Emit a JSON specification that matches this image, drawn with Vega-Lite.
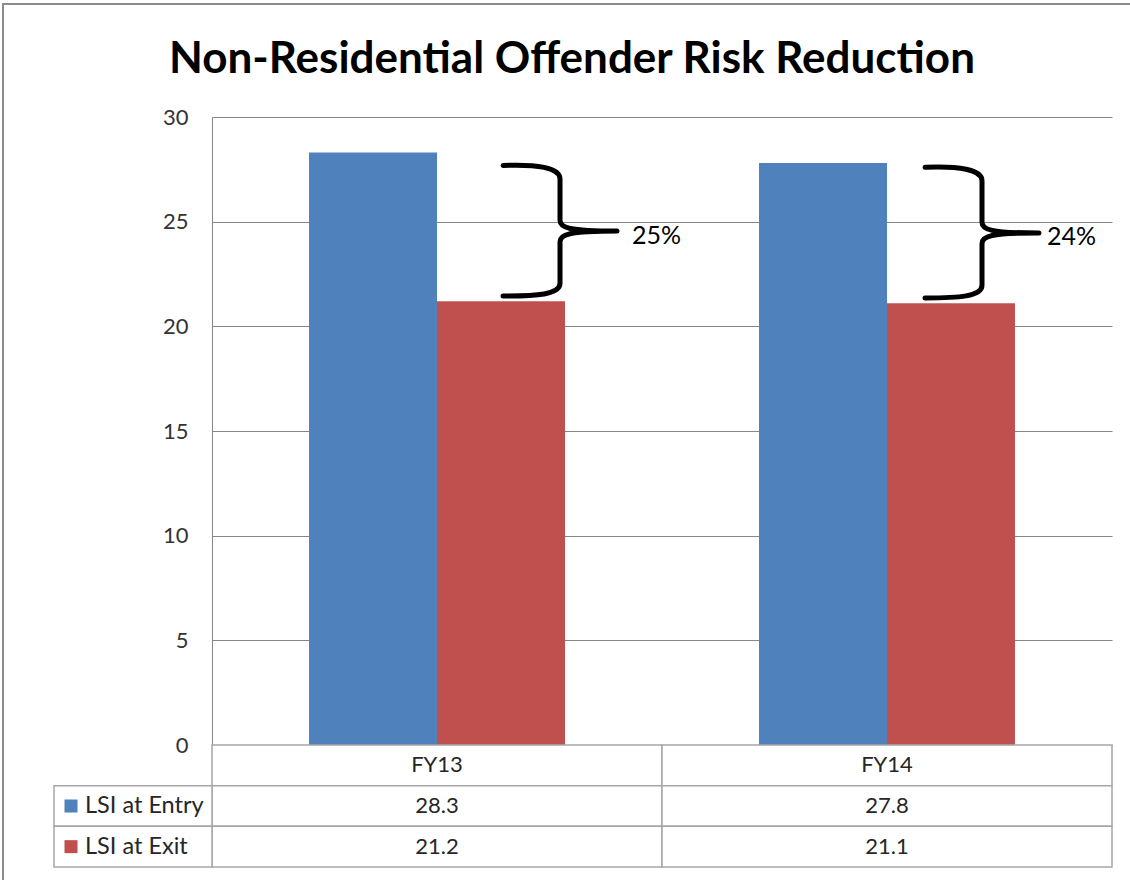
{
  "$schema": "https://vega.github.io/schema/vega-lite/v6.json",
  "width": 900,
  "height": 628,
  "autosize": {"type": "none"},
  "padding": {"left": 212, "top": 117, "right": 18, "bottom": 135},
  "background": "white",
  "config": {"view": {"stroke": null}, "font": "Lato"},
  "title": {
    "text": "Non-Residential Offender Risk Reduction",
    "font": "Lato",
    "fontSize": 44,
    "fontWeight": "bold",
    "color": "black",
    "anchor": "middle",
    "baseline": "alphabetic",
    "dx": -90,
    "offset": -114
  },
  "datasets": {
    "lsi": [
      {"fy": "FY13", "series": "LSI at Entry", "value": 28.3},
      {"fy": "FY13", "series": "LSI at Exit", "value": 21.2},
      {"fy": "FY14", "series": "LSI at Entry", "value": 27.8},
      {"fy": "FY14", "series": "LSI at Exit", "value": 21.1}
    ],
    "reduction": [
      {"fy": "FY13", "mid": 24.55, "label": "25%"},
      {"fy": "FY14", "mid": 24.46, "label": "24%"}
    ],
    "years": [{"fy": "FY13"}, {"fy": "FY14"}],
    "rows": [{"series": "LSI at Entry"}, {"series": "LSI at Exit"}],
    "frame": [{"part": "border"}]
  },
  "resolve": {"scale": {"x": "independent", "y": "independent"}},
  "layer": [
    {
      "data": {"name": "frame"},
      "mark": {"type": "rect", "fill": "transparent", "stroke": "#8C8C8C", "strokeWidth": 2},
      "encoding": {
        "x": {"datum": 0, "type": "quantitative", "scale": {"domain": [0, 1], "range": [-209, 930]}, "axis": null},
        "x2": {"datum": 1},
        "y": {"datum": 0, "type": "quantitative", "scale": {"domain": [0, 1], "range": [-113, 790]}, "axis": null},
        "y2": {"datum": 1}
      }
    },
    {
      "layer": [
        {
          "data": {"name": "lsi"},
          "mark": {"type": "bar"},
          "encoding": {
            "x": {"field": "fy", "type": "nominal", "scale": {"paddingInner": 0, "paddingOuter": 0}, "axis": null},
            "xOffset": {"field": "series", "scale": {"paddingInner": 0, "paddingOuter": 0.758}},
            "y": {
              "field": "value",
              "type": "quantitative",
              "scale": {"domain": [0, 30], "nice": false},
              "axis": {
                "title": null,
                "values": [0, 5, 10, 15, 20, 25, 30],
                "grid": true,
                "gridColor": "#868686",
                "gridWidth": 1,
                "domain": true,
                "domainColor": "#868686",
                "domainWidth": 1,
                "ticks": false,
                "tickSize": 0,
                "labelPadding": 24,
                "labelFont": "Lato",
                "labelFontSize": 22,
                "labelColor": "#333333"
              }
            },
            "color": {
              "field": "series",
              "type": "nominal",
              "scale": {"domain": ["LSI at Entry", "LSI at Exit"], "range": ["#4F81BD", "#C0504D"]},
              "legend": null
            }
          }
        },
        {
          "data": {"name": "reduction"},
          "transform": [{"filter": "datum.fy === 'FY13'"}],
          "mark": {
            "type": "point",
            "shape": "M 0.986 -0.98 C 1.486 -1.0 1.836 -0.95 1.836 -0.78 L 1.836 -0.16 C 1.836 -0.05 1.956 0 2.686 0 M 2.686 0 C 1.956 0 1.836 0.05 1.836 0.16 L 1.836 0.78 C 1.836 0.95 1.486 0.97 0.986 0.97",
            "size": 17956,
            "filled": false,
            "stroke": "black",
            "strokeWidth": 5,
            "strokeCap": "round",
            "strokeJoin": "round",
            "opacity": 1
          },
          "encoding": {
            "x": {"field": "fy", "type": "nominal"},
            "y": {"field": "mid", "type": "quantitative"}
          }
        },
        {
          "data": {"name": "reduction"},
          "transform": [{"filter": "datum.fy === 'FY14'"}],
          "mark": {
            "type": "point",
            "shape": "M 0.568 -0.98 C 1.068 -1.0 1.418 -0.95 1.418 -0.78 L 1.418 -0.16 C 1.418 -0.05 1.538 0 2.268 0 M 2.268 0 C 1.538 0 1.418 0.05 1.418 0.16 L 1.418 0.78 C 1.418 0.95 1.068 0.97 0.568 0.97",
            "size": 17956,
            "filled": false,
            "stroke": "black",
            "strokeWidth": 5,
            "strokeCap": "round",
            "strokeJoin": "round",
            "opacity": 1
          },
          "encoding": {
            "x": {"field": "fy", "type": "nominal"},
            "y": {"field": "mid", "type": "quantitative"}
          }
        },
        {
          "data": {"name": "reduction"},
          "transform": [{"filter": "datum.fy === 'FY13'"}],
          "mark": {"type": "text", "align": "left", "baseline": "middle", "fontSize": 25, "color": "black", "dx": 195, "dy": 5},
          "encoding": {
            "x": {"field": "fy", "type": "nominal"},
            "y": {"field": "mid", "type": "quantitative"},
            "text": {"field": "label"}
          }
        },
        {
          "data": {"name": "reduction"},
          "transform": [{"filter": "datum.fy === 'FY14'"}],
          "mark": {"type": "text", "align": "left", "baseline": "middle", "fontSize": 25, "color": "black", "dx": 160, "dy": 4},
          "encoding": {
            "x": {"field": "fy", "type": "nominal"},
            "y": {"field": "mid", "type": "quantitative"},
            "text": {"field": "label"}
          }
        }
      ]
    },
    {
      "layer": [
        {
          "data": {"name": "years"},
          "mark": {"type": "rect", "fill": "white", "stroke": "#A6A6A6", "strokeWidth": 1.5},
          "encoding": {
            "x": {"field": "fy", "type": "nominal", "scale": {"paddingInner": 0, "paddingOuter": 0}, "axis": null},
            "y": {"datum": "hdr", "type": "nominal", "scale": {"type": "band", "domain": ["hdr", "LSI at Entry", "LSI at Exit"], "range": [628, 750], "paddingInner": 0, "paddingOuter": 0}, "axis": null}
          }
        },
        {
          "data": {"name": "years"},
          "mark": {"type": "text", "fontSize": 22, "color": "#262626", "baseline": "middle"},
          "encoding": {
            "x": {"field": "fy", "type": "nominal"},
            "y": {"datum": "hdr", "type": "nominal"},
            "text": {"field": "fy"}
          }
        },
        {
          "data": {"name": "lsi"},
          "mark": {"type": "rect", "fill": "white", "stroke": "#A6A6A6", "strokeWidth": 1.5},
          "encoding": {
            "x": {"field": "fy", "type": "nominal"},
            "y": {"field": "series", "type": "nominal"}
          }
        },
        {
          "data": {"name": "lsi"},
          "mark": {"type": "text", "fontSize": 22, "color": "#262626", "baseline": "middle"},
          "encoding": {
            "x": {"field": "fy", "type": "nominal"},
            "y": {"field": "series", "type": "nominal"},
            "text": {"field": "value", "type": "quantitative", "format": ".1f"}
          }
        }
      ]
    },
    {
      "layer": [
        {
          "data": {"name": "rows"},
          "mark": {"type": "rect", "fill": "white", "stroke": "#A6A6A6", "strokeWidth": 1.5},
          "encoding": {
            "x": {"datum": 0, "type": "quantitative", "scale": {"domain": [0, 1], "range": [-158, 0]}, "axis": null},
            "x2": {"datum": 1},
            "y": {"field": "series", "type": "nominal", "scale": {"type": "band", "domain": ["hdr", "LSI at Entry", "LSI at Exit"], "range": [628, 750], "paddingInner": 0, "paddingOuter": 0}, "axis": null}
          }
        },
        {
          "data": {"name": "rows"},
          "mark": {
            "type": "point",
            "shape": "M 1.615 -1 L 3.615 -1 L 3.615 1 L 1.615 1 Z",
            "size": 169,
            "filled": true,
            "opacity": 1,
            "strokeWidth": 0
          },
          "encoding": {
            "x": {"datum": 0, "type": "quantitative"},
            "y": {"field": "series", "type": "nominal"},
            "color": {
              "field": "series",
              "type": "nominal",
              "scale": {"domain": ["LSI at Entry", "LSI at Exit"], "range": ["#4F81BD", "#C0504D"]},
              "legend": null
            }
          }
        },
        {
          "data": {"name": "rows"},
          "mark": {"type": "text", "align": "left", "baseline": "middle", "fontSize": 23.5, "color": "#262626", "dx": 31},
          "encoding": {
            "x": {"datum": 0, "type": "quantitative"},
            "y": {"field": "series", "type": "nominal"},
            "text": {"field": "series"}
          }
        }
      ]
    }
  ]
}
